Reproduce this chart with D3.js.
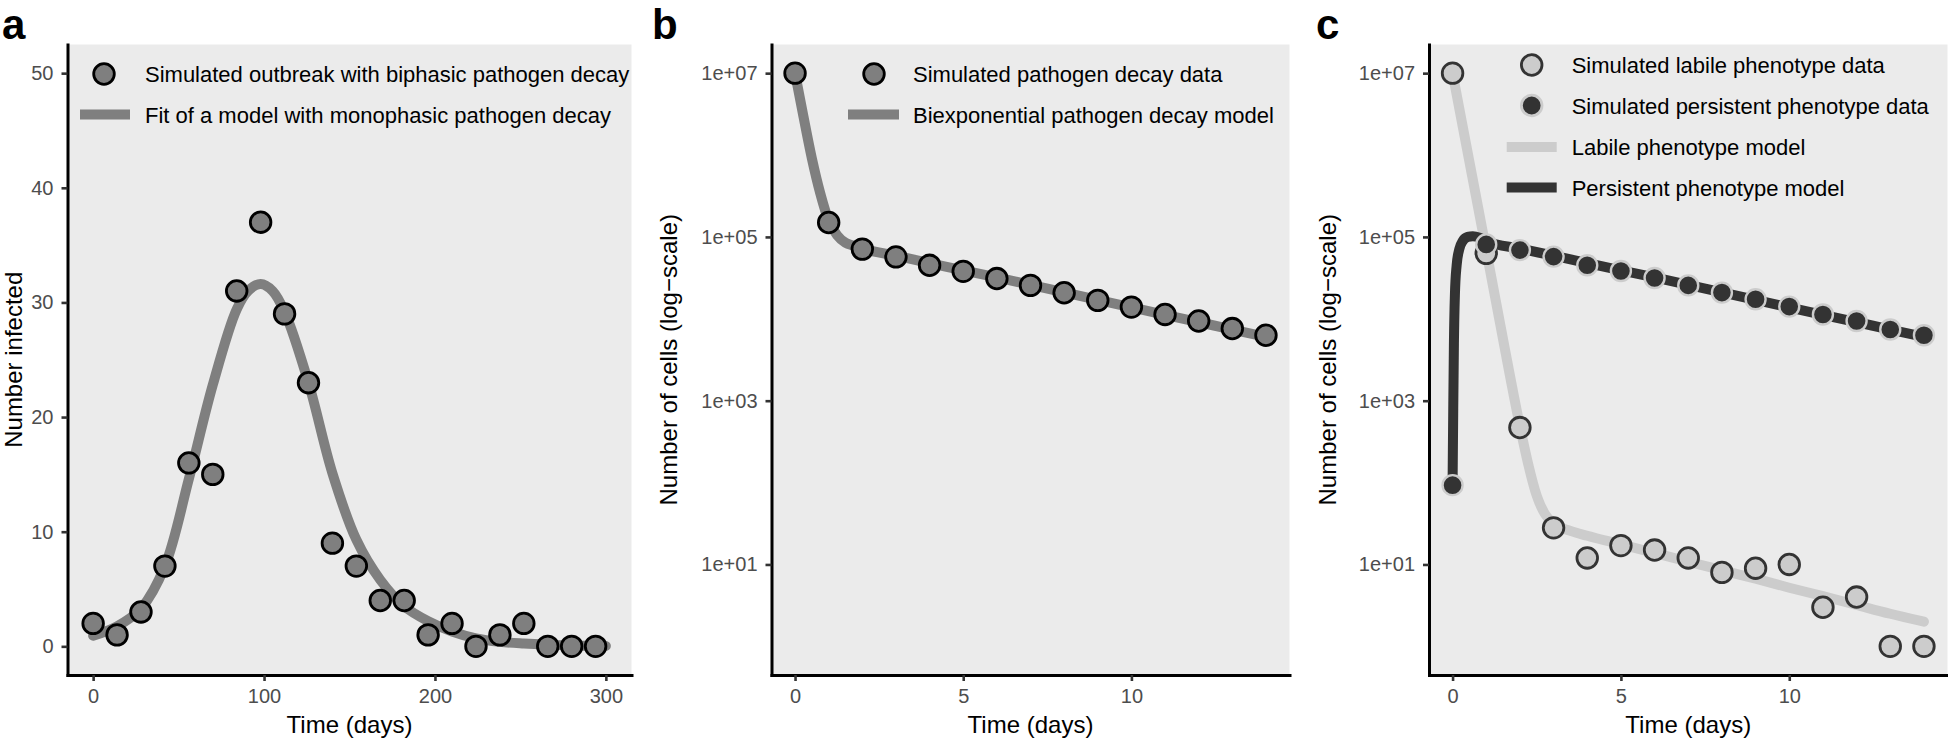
<!DOCTYPE html>
<html>
<head>
<meta charset="utf-8">
<script src="https://cdn.jsdelivr.net/npm/d3@7"></script>
<style>
  html, body { margin: 0; padding: 0; background: #ffffff; }
  svg { display: block; font-family: "Liberation Sans", Arial, Helvetica, sans-serif; }
</style>
</head>
<body>
<svg id="chart" width="1948" height="739"></svg>
<script>
// ---------------- DATA ----------------
// Panel a: simulated outbreak
const aDays = [0, 14, 28, 42, 56, 70, 84, 98, 112, 126, 140, 154, 168, 182, 196, 210, 224, 238, 252, 266, 280, 294];
const aInfected = [2, 1, 3, 7, 16, 15, 31, 37, 29, 23, 9, 7, 4, 4, 1, 2, 0, 1, 2, 0, 0, 0];
const aFitDays = [0, 14, 28, 42, 56, 70, 84, 91, 98, 105, 112, 126, 140, 154, 168, 182, 196, 210, 224, 238, 252, 266, 280, 294, 300];
const aFitValues = [0.93, 1.75, 3.3, 7.0, 14.6, 22.8, 29.4, 31.05, 31.6, 31.0, 29.2, 23.0, 15.1, 9.3, 5.8, 3.5, 2.2, 1.3, 0.7, 0.4, 0.25, 0.15, 0.08, 0.05, 0.04];
const aXTicks = [0, 100, 200, 300];
const aYTicks = [0, 10, 20, 30, 40, 50];

// Panel b: total pathogen decay
const bDays = [0, 1, 2, 3, 4, 5, 6, 7, 8, 9, 10, 11, 12, 13, 14];
const bCells = [1e7, 1.5e5, 7.1e4, 5.7e4, 4.5e4, 3.8e4, 3.1e4, 2.56e4, 2.08e4, 1.68e4, 1.39e4, 1.13e4, 9.4e3, 7.6e3, 6.3e3];
const bFitDays = [0, 0.25, 0.5, 0.75, 1, 1.25, 1.5, 1.75, 2, 3, 4, 5, 6, 7, 8, 9, 10, 11, 12, 13, 14];
const bFitCells = [1e7, 2.95e6, 9.1e5, 3.4e5, 1.58e5, 1.05e5, 8.5e4, 7.8e4, 7.2e4, 5.9e4, 4.8e4, 3.9e4, 3.2e4, 2.6e4, 2.1e4, 1.7e4, 1.38e4, 1.12e4, 9.1e3, 7.4e3, 6.0e3];

// Panel c: labile / persistent phenotypes
const cDays = [0, 1, 2, 3, 4, 5, 6, 7, 8, 9, 10, 11, 12, 13, 14];
const cLabile = [1e7, 6.3e4, 470, 28, 12, 17, 15, 12, 8, 9, 10, 3, 4, 1, 1];
const cPersistent = [93, 8.1e4, 6.9e4, 5.75e4, 4.5e4, 3.84e4, 3.15e4, 2.56e4, 2.09e4, 1.73e4, 1.41e4, 1.13e4, 9.4e3, 7.4e3, 6.3e3];
const cLabileFitDays = [0, 0.5, 1, 1.5, 2, 2.25, 2.5, 2.75, 3, 3.5, 4, 5, 6, 7, 8, 9, 10, 11, 12, 13, 14];
const cLabileFit = [1e7, 8.3e5, 6.9e4, 5.6e3, 490, 166, 69, 41, 31.6, 25.7, 22.4, 17.6, 13.8, 10.8, 8.5, 6.7, 5.2, 4.1, 3.2, 2.5, 2.0];
const cPersistentFitDays = [0, 0.02, 0.04, 0.07, 0.12, 0.2, 0.3, 0.45, 0.6, 0.8, 1, 2, 3, 4, 5, 6, 7, 8, 9, 10, 11, 12, 13, 14];
const cPersistentFit = [93, 794, 5.0e3, 2.0e4, 4.47e4, 7.1e4, 8.9e4, 1.0e5, 1.02e5, 9.8e4, 8.9e4, 7.2e4, 5.9e4, 4.8e4, 3.9e4, 3.2e4, 2.6e4, 2.1e4, 1.7e4, 1.38e4, 1.12e4, 9.1e3, 7.4e3, 6.0e3];

const dayTicks = [0, 5, 10];
const logTicks = [1e1, 1e3, 1e5, 1e7];
const logTickLabels = ["1e+01", "1e+03", "1e+05", "1e+07"];

const panelLetters = ["a", "b", "c"];
const xTitle = "Time (days)";
const yTitles = ["Number infected", "Number of cells (log\u2212scale)", "Number of cells (log\u2212scale)"];
const legendA = ["Simulated outbreak with biphasic pathogen decay", "Fit of a model with monophasic pathogen decay"];
const legendB = ["Simulated pathogen decay data", "Biexponential pathogen decay model"];
const legendC = ["Simulated labile phenotype data", "Simulated persistent phenotype data", "Labile phenotype model", "Persistent phenotype model"];

// ---------------- STYLE ----------------
const GREY50 = "#7f7f7f", LIGHT = "#cccccc", DARK = "#333333";
const PANEL_BG = "#ebebeb";
const TOP = 44.5, BOTTOM = 675;
const PT_R = 10.3, PT_SW = 2.8;
const svg = d3.select("#chart");

function lineGen(x, y, curve) {
  return d3.line().x(d => x(d[0])).y(d => y(d[1])).curve(curve || d3.curveMonotoneX);
}
const zip = (a, b) => a.map((v, i) => [v, b[i]]);

function drawFrame(x) {
  const [x0, x1] = x.range();
  svg.append("rect").attr("x", x0).attr("y", TOP).attr("width", x1 - x0).attr("height", BOTTOM - TOP).attr("fill", PANEL_BG);
}

function drawAxes(x, y, xTicks, yTicks, yFmt, yTitle, yTitleX, letter, letterX) {
  const [x0, x1] = x.range();
  const ya = svg.append("g").attr("transform", `translate(${x0},0)`)
    .call(d3.axisLeft(y).tickValues(yTicks).tickSize(6).tickSizeOuter(0).tickPadding(8).tickFormat(yFmt));
  const xa = svg.append("g").attr("transform", `translate(0,${BOTTOM})`)
    .call(d3.axisBottom(x).tickValues(xTicks).tickSize(6).tickSizeOuter(0).tickPadding(8).tickFormat(d3.format("d")));
  [ya, xa].forEach(ax => {
    ax.select(".domain").attr("stroke", "#000").attr("stroke-width", 3).attr("stroke-linecap", "square");
    ax.selectAll(".tick line").attr("stroke", DARK).attr("stroke-width", 2.6);
    ax.selectAll(".tick text").attr("fill", "#4d4d4d").attr("font-size", 20).attr("font-family", "'Liberation Sans', Arial, sans-serif");
  });
  svg.append("text").attr("x", (x0 + x1) / 2).attr("y", 733).attr("text-anchor", "middle")
    .attr("font-size", 24).attr("fill", "#000").text(xTitle);
  svg.append("text").attr("transform", `translate(${yTitleX},${(TOP + BOTTOM) / 2}) rotate(-90)`)
    .attr("text-anchor", "middle").attr("font-size", 24).attr("fill", "#000").text(yTitle);
  svg.append("text").attr("x", letterX).attr("y", 39).attr("font-size", 42).attr("font-weight", "bold")
    .attr("fill", "#000").text(letter);
}

function legendPoint(cx, cy, fill, stroke, label, textX) {
  svg.append("circle").attr("cx", cx).attr("cy", cy).attr("r", PT_R).attr("fill", fill).attr("stroke", stroke).attr("stroke-width", PT_SW);
  svg.append("text").attr("x", textX).attr("y", cy + 8).attr("font-size", 22).attr("fill", "#000").text(label);
}
function legendLine(x0, x1, cy, color, label, textX) {
  svg.append("line").attr("x1", x0).attr("x2", x1).attr("y1", cy).attr("y2", cy).attr("stroke", color).attr("stroke-width", 10);
  svg.append("text").attr("x", textX).attr("y", cy + 8).attr("font-size", 22).attr("fill", "#000").text(label);
}

// ---------------- PANEL A ----------------
{
  const x = d3.scaleLinear().domain([-15, 315]).range([67.5, 631.5]);
  const y = d3.scaleLinear().domain([-2.5, 52.5]).range([BOTTOM, TOP]);
  drawFrame(x);
  svg.append("path").datum(zip(aFitDays, aFitValues)).attr("d", lineGen(x, y, d3.curveCatmullRom.alpha(0.5)))
    .attr("fill", "none").attr("stroke", GREY50).attr("stroke-width", 10).attr("stroke-linecap", "round");
  svg.append("g").selectAll("circle").data(zip(aDays, aInfected)).join("circle")
    .attr("cx", d => x(d[0])).attr("cy", d => y(d[1])).attr("r", PT_R)
    .attr("fill", GREY50).attr("stroke", "#000").attr("stroke-width", PT_SW);
  legendPoint(104, 74, GREY50, "#000", legendA[0], 145);
  legendLine(80, 130, 114.5, GREY50, legendA[1], 145);
  drawAxes(x, y, aXTicks, aYTicks, d3.format("d"), yTitles[0], 22, panelLetters[0], 2);
}

// ---------------- PANEL B ----------------
const logFmt = d => logTickLabels[logTicks.indexOf(d)];
{
  const x = d3.scaleLinear().domain([-0.7, 14.7]).range([771.5, 1289.5]);
  const y = d3.scaleLog().domain([Math.pow(10, -0.35), Math.pow(10, 7.35)]).range([BOTTOM, TOP]);
  drawFrame(x);
  svg.append("path").datum(zip(bFitDays, bFitCells)).attr("d", lineGen(x, y))
    .attr("fill", "none").attr("stroke", GREY50).attr("stroke-width", 10).attr("stroke-linecap", "round");
  svg.append("g").selectAll("circle").data(zip(bDays, bCells)).join("circle")
    .attr("cx", d => x(d[0])).attr("cy", d => y(d[1])).attr("r", PT_R)
    .attr("fill", GREY50).attr("stroke", "#000").attr("stroke-width", PT_SW);
  legendPoint(874, 74, GREY50, "#000", legendB[0], 913);
  legendLine(848, 899, 114.5, GREY50, legendB[1], 913);
  drawAxes(x, y, dayTicks, logTicks, logFmt, yTitles[1], 677, panelLetters[1], 652);
}

// ---------------- PANEL C ----------------
{
  const x = d3.scaleLinear().domain([-0.7, 14.7]).range([1429, 1947.5]);
  const y = d3.scaleLog().domain([Math.pow(10, -0.35), Math.pow(10, 7.35)]).range([BOTTOM, TOP]);
  drawFrame(x);
  svg.append("path").datum(zip(cLabileFitDays, cLabileFit)).attr("d", lineGen(x, y))
    .attr("fill", "none").attr("stroke", LIGHT).attr("stroke-width", 10).attr("stroke-linecap", "round");
  svg.append("path").datum(zip(cPersistentFitDays, cPersistentFit)).attr("d", lineGen(x, y))
    .attr("fill", "none").attr("stroke", DARK).attr("stroke-width", 10).attr("stroke-linecap", "round");
  svg.append("g").selectAll("circle").data(zip(cDays, cLabile)).join("circle")
    .attr("cx", d => x(d[0])).attr("cy", d => y(d[1])).attr("r", PT_R)
    .attr("fill", LIGHT).attr("stroke", DARK).attr("stroke-width", PT_SW);
  svg.append("g").selectAll("circle").data(zip(cDays, cPersistent)).join("circle")
    .attr("cx", d => x(d[0])).attr("cy", d => y(d[1])).attr("r", 10)
    .attr("fill", DARK).attr("stroke", LIGHT).attr("stroke-width", 2.4);
  legendPoint(1531.7, 65, LIGHT, DARK, legendC[0], 1571.7);
  legendPoint(1531.7, 105.5, DARK, LIGHT, legendC[1], 1571.7);
  legendLine(1506.7, 1556.7, 147, LIGHT, legendC[2], 1571.7);
  legendLine(1506.7, 1556.7, 187.5, DARK, legendC[3], 1571.7);
  drawAxes(x, y, dayTicks, logTicks, logFmt, yTitles[2], 1336, panelLetters[2], 1316);
}
</script>
</body>
</html>
